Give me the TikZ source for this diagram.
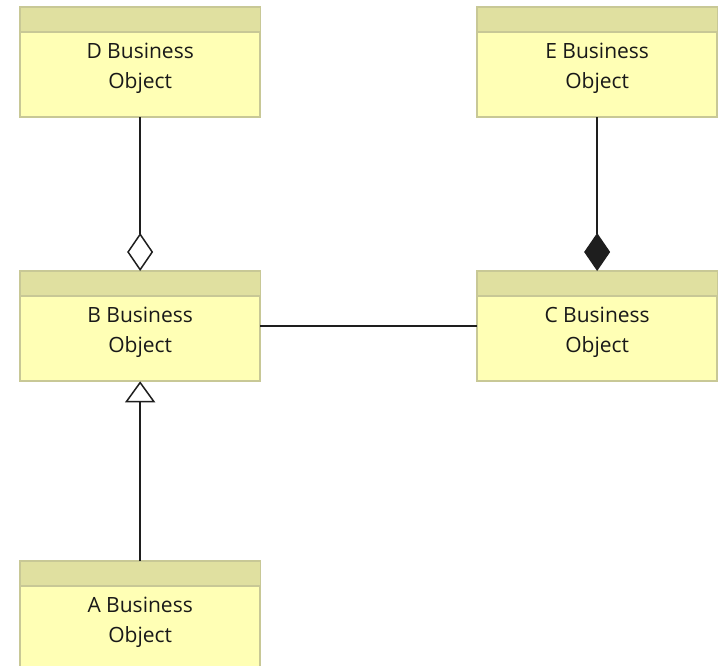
\documentclass[tikz,border=0pt]{standalone}
\usepackage{fontspec}
\setmainfont{Open Sans}
\usetikzlibrary{arrows.meta,calc}
\definecolor{boxfill}{RGB}{255,255,181}
\definecolor{headfill}{RGB}{224,224,160}
\definecolor{boxline}{RGB}{200,200,150}
\definecolor{inkline}{RGB}{30,30,30}
\tikzset{
  bobox/.style={draw=boxline, line width=1.3pt, fill=boxfill, rectangle,
    minimum width=239pt, minimum height=109pt, inner sep=0pt, anchor=north west},
  botext/.style={font=\fontsize{21}{30}\selectfont, align=center, text=black!90, inner sep=0pt},
  link/.style={draw=inkline, line width=1.5pt},
  aggr/.style={-{Diamond[open, length=38pt, width=26pt, fill=white]}},
  comp/.style={-{Diamond[length=38pt, width=26pt]}},
  gen/.style={-{Triangle[open, length=21pt, width=30pt, fill=white]}}
}
% header band of a business object box (y axis points down)
\newcommand{\boheader}[1]{%
  \fill[headfill] ($(#1.north west)+(0.65,0.65)$) rectangle ($(#1.north east)+(-0.65,25)$);
  \draw[boxline, line width=1.3pt] ($(#1.north west)+(0,25)$) -- ($(#1.north east)+(0,25)$);
  \draw[boxline, line width=1.3pt] (#1.north west) rectangle (#1.south east);
}
\begin{document}
\begin{tikzpicture}[x=1pt, y=-1pt]
  \useasboundingbox[fill=white] (0,0) rectangle (721,666);
  % business object boxes
  \node[bobox] (d) at (20,7) {};
  \node[bobox] (e) at (477,7) {};
  \node[bobox] (b) at (20,271) {};
  \node[bobox] (c) at (477,271) {};
  \node[bobox, minimum height=112pt] (a) at (20,561) {};
  \boheader{d}\boheader{e}\boheader{b}\boheader{c}\boheader{a}
  % titles
  \node[botext] (dt) at ($(d.north)+(0,61)$) {D Business\\Object};
  \node[botext] (et) at ($(e.north)+(0,61)$) {E Business\\Object};
  \node[botext] (bt) at ($(b.north)+(0,61)$) {B Business\\Object};
  \node[botext] (ct) at ($(c.north)+(0,61)$) {C Business\\Object};
  \node[botext] (at) at ($(a.north)+(0,61)$) {A Business\\Object};
  % relations
  \draw[link, aggr] (d.south) -- (b.north);
  \draw[link, comp] (e.south) -- (c.north);
  \draw[link, gen] (a.north) -- (b.south);
  \draw[link] (b.east) -- (c.west);
\end{tikzpicture}
\end{document}
